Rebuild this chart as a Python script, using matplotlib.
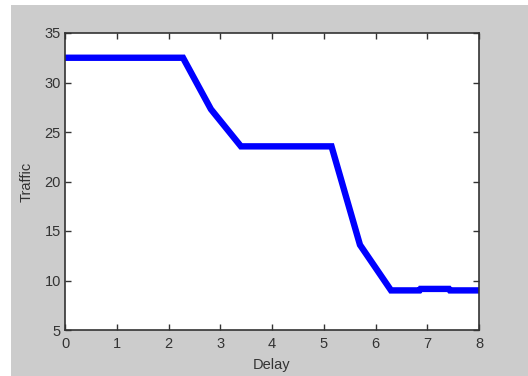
import matplotlib
matplotlib.use("Agg")
import matplotlib.pyplot as plt
from matplotlib.patches import Rectangle

# Traffic vs. delay trade-off curve
delay = [0, 2.28, 2.82, 3.40, 5.15, 5.70, 6.30, 6.85, 6.87, 7.42, 7.44, 8.0]
traffic = [32.5, 32.5, 27.3, 23.55, 23.55, 13.6, 9.0, 9.0, 9.15, 9.15, 9.0, 9.0]

xticks = [0, 1, 2, 3, 4, 5, 6, 7, 8]
yticks = [5, 10, 15, 20, 25, 30, 35]

plt.rcParams['font.family'] = ['Liberation Sans', 'DejaVu Sans']

W, H = 528, 376
fig = plt.figure(figsize=(W / 100, H / 100), dpi=100, facecolor='white')
# grey window background with a thin white margin on the top and left
fig.patches.append(Rectangle((11 / W, 0), 1 - 11 / W, 1 - 5 / H,
                             transform=fig.transFigure, facecolor='#cccccc',
                             edgecolor='none', zorder=-10))

ax = fig.add_axes([65 / W, 1 - 330 / H, 414 / W, 297 / H])
ax.set_facecolor('white')
ax.plot(delay, traffic, color='#0000ff', linewidth=4.6, solid_joinstyle='miter',
        solid_capstyle='butt', clip_on=True)

ax.set_xlim(0, 8)
ax.set_ylim(5, 35)
ax.set_xticks(xticks)
ax.set_yticks(yticks)
ax.tick_params(direction='in', length=4, width=1, colors='#333333',
               labelsize=10.5, top=True, right=True, pad=3)
ax.tick_params(axis='x', pad=5)
for s in ax.spines.values():
    s.set_color('#333333')
    s.set_linewidth(1.2)

ax.set_xlabel('Delay', fontsize=10.5, color='#333333', labelpad=5)
ax.set_ylabel('Traffic', fontsize=10.5, color='#333333', labelpad=8)

fig.savefig('out.png', dpi=100, facecolor=fig.get_facecolor())
